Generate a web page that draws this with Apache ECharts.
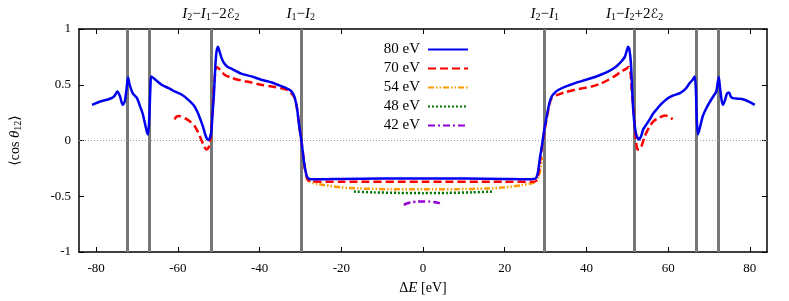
<!DOCTYPE html>
<html><head><meta charset="utf-8">
<script src="https://cdn.jsdelivr.net/npm/echarts@6/dist/echarts.min.js"></script>
<style>html,body{margin:0;padding:0;background:#fff}#c{width:789px;height:301px}</style>
</head><body><div id="c"></div>
<script>
const xTicks = [-80, -60, -40, -20, 0, 20, 40, 60, 80];
const yTicks = [-1, -0.5, 0, 0.5, 1];
const seriesNames = ['80 eV', '70 eV', '54 eV', '48 eV', '42 eV'];

const e80x = [-81.0,-79,-77,-76,-75.5,-74.8,-74.2,-73.5,-73.0,-72.6,-72.2,-71.8,-71.0,-70.0,-69.3,-68.6,-68.1,-67.6,-67.3,-67.0,-66.7,-66.5,-65.5,-64.0,-62,-60.8,-59,-57.5,-56,-55.1,-54.4,-53.9,-53.0,-52.6,-52.2,-51.8,-51.5,-51.2,-50.9,-50.6,-50.2,-49.8,-49.4,-48.8,-47.8,-46.9,-44.5,-42,-39.6,-37,-35.6,-33.5,-32.5,-31.8,-31.3,-30.8,-30.3,-29.7,-29.1,-28.6,-28.2,-27.4,-25,-20,-10,0,10,20,25,27.5,28.1,28.6,29.1,29.7,30.3,30.9,31.5,32.3,33.2,35,37.2,39,41.3,43.5,45.4,46.8,47.8,48.8,49.4,49.9,50.2,50.5,50.9,51.2,51.5,51.9,52.3,52.9,53.4,53.9,54.6,55.5,56.3,57.2,58.4,59.6,61,62.9,64.2,65.3,66.0,66.5,66.8,67.0,67.3,67.8,68.5,69.5,70.6,71.3,71.8,72.1,72.4,72.7,73.1,73.4,73.9,74.4,74.9,75.4,75.9,77,78.3,80,81.2];
const e80y = [0.32,0.35,0.37,0.385,0.40,0.44,0.40,0.32,0.35,0.45,0.565,0.50,0.42,0.38,0.31,0.24,0.16,0.08,0.055,0.2,0.50,0.574,0.545,0.50,0.465,0.44,0.41,0.366,0.31,0.247,0.18,0.128,0.024,0.005,0.02,0.08,0.25,0.40,0.62,0.78,0.84,0.80,0.75,0.70,0.66,0.645,0.60,0.575,0.545,0.52,0.50,0.47,0.45,0.42,0.37,0.28,0.13,-0.02,-0.2,-0.30,-0.335,-0.348,-0.348,-0.345,-0.341,-0.34,-0.341,-0.345,-0.348,-0.342,-0.29,-0.16,-0.05,0.1,0.22,0.33,0.395,0.43,0.455,0.485,0.515,0.535,0.56,0.59,0.62,0.65,0.68,0.72,0.75,0.81,0.84,0.82,0.69,0.45,0.25,0.11,0.04,0.01,0.04,0.10,0.14,0.19,0.24,0.28,0.33,0.37,0.40,0.425,0.46,0.515,0.545,0.574,0.45,0.2,0.055,0.12,0.22,0.30,0.37,0.41,0.44,0.51,0.57,0.47,0.36,0.32,0.36,0.42,0.43,0.39,0.38,0.375,0.37,0.345,0.32];

const e70x = [-60.8,-60.3,-59.6,-58.3,-57,-55.9,-55,-54.3,-53.6,-53.0,-52.6,-52.2,-51.8,-51.4,-51.0,-50.6,-50.0,-49.4,-48.6,-47,-45.3,-42,-39.6,-37,-34.8,-33,-31.9,-31.3,-30.8,-30.3,-29.7,-29.1,-28.6,-28.2,-27.4,-20,0,20,27.4,28.1,28.6,29.1,29.7,30.3,30.9,31.5,33,35,37.2,41.3,43.5,45.4,47,48.6,49.8,50.4,50.8,51.1,51.6,52.0,52.5,53.0,53.5,54.3,55.5,56.5,57.6,59.2,60.3,61.1];
const e70y = [0.19,0.215,0.22,0.20,0.17,0.13,0.07,0.01,-0.05,-0.08,-0.07,-0.03,0.10,0.34,0.55,0.66,0.645,0.63,0.59,0.565,0.545,0.52,0.50,0.485,0.47,0.45,0.41,0.37,0.28,0.13,-0.02,-0.2,-0.31,-0.355,-0.368,-0.37,-0.37,-0.37,-0.368,-0.33,-0.2,-0.06,0.08,0.2,0.32,0.38,0.41,0.435,0.455,0.485,0.51,0.545,0.58,0.62,0.645,0.66,0.6,0.45,0.25,0.05,-0.08,-0.08,-0.05,0.04,0.13,0.175,0.20,0.225,0.21,0.19];

const e54x = [-29.2,-28.6,-28,-27,-24.2,-20,-16,-8,0,8,16,20,24.2,27,28,28.6,29.2];
const e54y = [-0.2,-0.31,-0.36,-0.38,-0.40,-0.42,-0.43,-0.437,-0.438,-0.437,-0.43,-0.42,-0.40,-0.38,-0.35,-0.28,-0.15];

const e48x = [-16.9,-12,-6,0,6,12,16.9];
const e48y = [-0.458,-0.465,-0.47,-0.472,-0.47,-0.465,-0.458];

const e42x = [-4.7,-4,-3,-1.5,0,1.5,3,4,4.9];
const e42y = [-0.578,-0.565,-0.555,-0.548,-0.546,-0.548,-0.553,-0.562,-0.578];

const vlines = [-72.4, -67.1, -51.9, -29.9, 29.8, 51.8, 66.9, 72.2];
const vlineLabels = ['', '', '{i|I}{s|2}\u2212{i|I}{s|1}\u22122{e|\u2130}{s|2}', '{i|I}{s|1}\u2212{i|I}{s|2}', '{i|I}{s|2}\u2212{i|I}{s|1}', '{i|I}{s|1}\u2212{i|I}{s|2}+2{e|\u2130}{s|2}', '', ''];

const FONT = '"Liberation Serif", "DejaVu Serif", serif';
const zip = (xs, ys) => xs.map((x, i) => [x, ys[i]]);
const rich = {
  i: {fontFamily: FONT, fontStyle: 'italic', fontSize: 15, color: '#000', lineHeight: 15},
  e: {fontFamily: '"DejaVu Sans", sans-serif', fontSize: 13, color: '#000', lineHeight: 15},
  s: {fontFamily: FONT, fontSize: 10, color: '#000', lineHeight: 6, verticalAlign: 'bottom'}
};

const colors = ['#0000f0', '#ff0000', '#ff9900', '#007000', '#9400d3'];
const dashes = ['solid', [8, 4], [6, 2, 1.5, 2, 1.5, 2], [2, 2], [7, 3, 2, 3]];
const xs = [e80x, e70x, e54x, e48x, e42x];
const ys = [e80y, e70y, e54y, e48y, e42y];

const series = seriesNames.map((n, k) => ({
  name: n, type: 'line', data: zip(xs[k], ys[k]), symbol: 'circle', symbolSize: 0, showSymbol: false, smooth: 0.25,
  lineStyle: {color: colors[k], width: 2.5, type: dashes[k]}, itemStyle: {color: colors[k]}, z: 10 - k
}));
series.push({
  name: 'refs', type: 'line', data: [], silent: true, z: 1,
  markLine: {
    symbol: 'none', silent: true, animation: false,
    data: vlines.map((v, i) => ({
      xAxis: v,
      lineStyle: {color: '#777', width: 3, type: 'solid'},
      label: vlineLabels[i] ? {show: true, position: 'end', distance: 7, formatter: vlineLabels[i], rich: rich, fontFamily: FONT, fontSize: 15, color: '#000'} : {show: false}
    })).concat([{yAxis: 0, lineStyle: {color: '#999', width: 1, type: [1, 2]}, label: {show: false}}])
  }
});

const chart = echarts.init(document.getElementById('c'), null, {renderer: 'canvas'});
chart.setOption({
  animation: false,
  backgroundColor: '#fff',
  grid: {left: 78, right: 22, top: 29, bottom: 48},
  legend: {
    data: seriesNames, orient: 'vertical', align: 'right', right: 315, top: 37,
    itemWidth: 40, itemHeight: 14, itemGap: 4,
    itemStyle: {opacity: 0, color: 'transparent', borderWidth: 0},
    textStyle: {fontFamily: FONT, fontSize: 15, lineHeight: 15, color: '#000', padding: [0, 3, 0, 0]}
  },
  xAxis: [{
    type: 'value', min: -84.2, max: 84.2, position: 'bottom',
    axisLine: {onZero: false, lineStyle: {color: '#000', width: 1.5}},
    axisTick: {inside: true, length: 5, customValues: xTicks, lineStyle: {color: '#000'}},
    axisLabel: {customValues: xTicks, margin: 10, fontFamily: FONT, fontSize: 13, color: '#000'},
    splitLine: {show: false},
    name: '\u0394{i|E} [eV]', nameLocation: 'middle', nameGap: 29,
    nameTextStyle: {fontFamily: FONT, fontSize: 14, color: '#000', rich: rich}
  }, {
    type: 'value', min: -84.2, max: 84.2, position: 'top',
    axisLine: {onZero: false, lineStyle: {color: '#000', width: 1.5}},
    axisTick: {inside: true, length: 5, customValues: xTicks, lineStyle: {color: '#000'}},
    axisLabel: {show: false}, splitLine: {show: false}
  }],
  yAxis: [{
    type: 'value', min: -1, max: 1, interval: 0.5, position: 'left',
    axisLine: {show: true, onZero: false, lineStyle: {color: '#000', width: 1.5}},
    axisTick: {show: true, inside: true, length: 5, lineStyle: {color: '#000'}},
    axisLabel: {margin: 8, fontFamily: FONT, fontSize: 13, color: '#000'},
    splitLine: {show: false},
    name: '\u27E8cos {i|\u03B8}{s|12}\u27E9', nameLocation: 'middle', nameGap: 56, nameRotate: 90,
    nameTextStyle: {fontFamily: FONT, fontSize: 14, color: '#000', rich: rich}
  }, {
    type: 'value', min: -1, max: 1, interval: 0.5, position: 'right',
    axisLine: {show: true, onZero: false, lineStyle: {color: '#000', width: 1.5}},
    axisTick: {show: true, inside: true, length: 5, lineStyle: {color: '#000'}},
    axisLabel: {show: false}, splitLine: {show: false}
  }],
  series: series
});
</script></body></html>
